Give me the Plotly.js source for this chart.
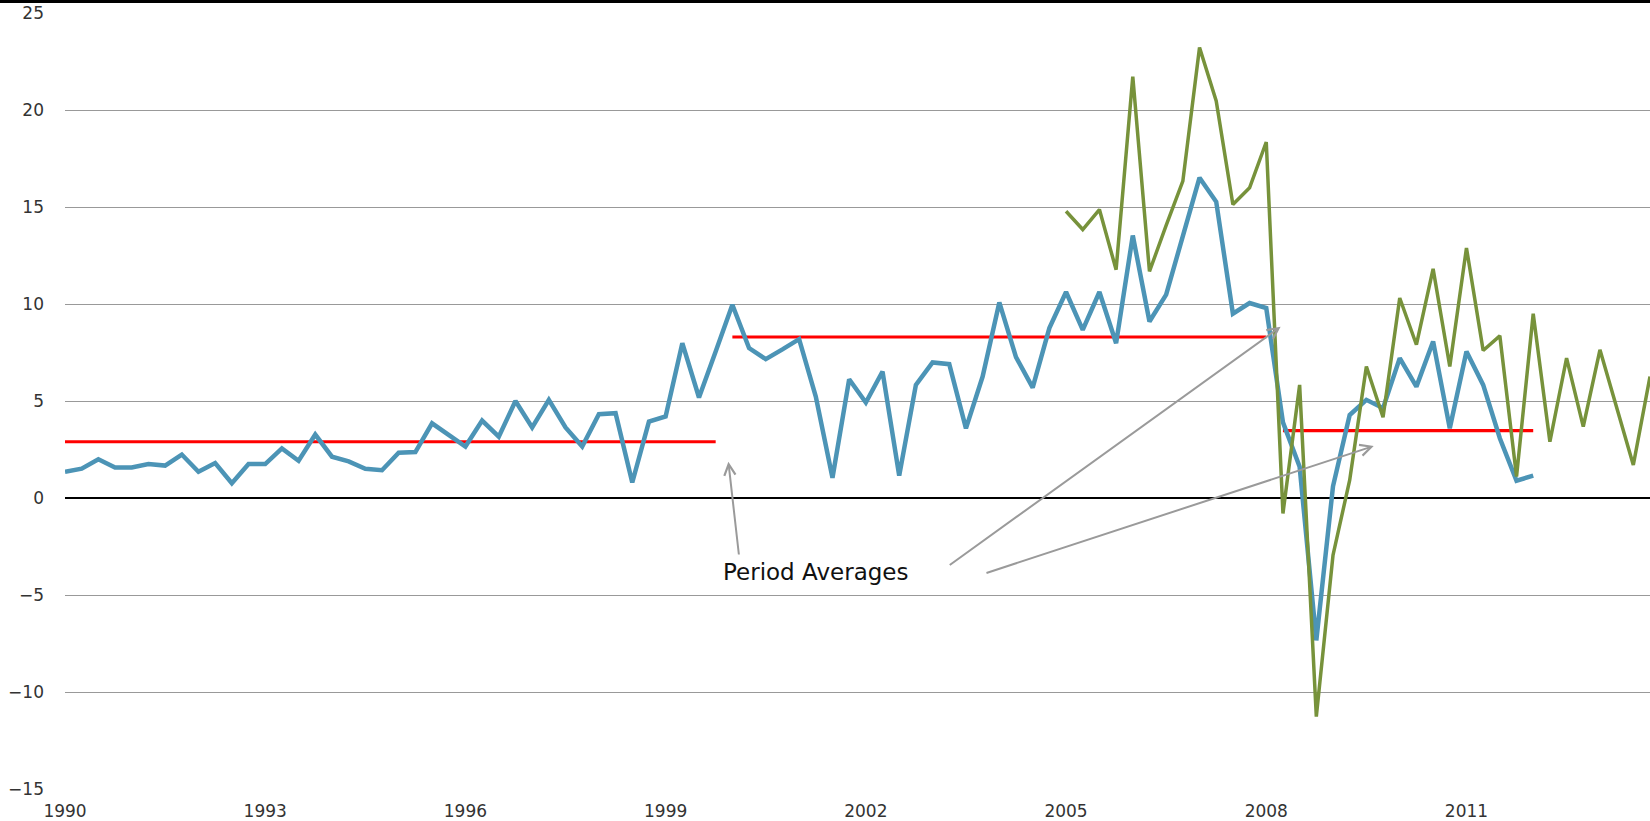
<!DOCTYPE html>
<html>
<head>
<meta charset="utf-8">
<script src="https://cdn.plot.ly/plotly-3.0.1.min.js"></script>
<style>
  html, body { margin: 0; padding: 0; background: #ffffff; }
  #chart { width: 1650px; height: 821px; }
</style>
</head>
<body>
<div id="chart"></div>
<script>
// Quarterly series, first quarter of each start year
const blueStart = 1990;
const blueValues = [
  1.35, 1.51, 2.00, 1.57,
  1.57, 1.75, 1.67, 2.24,
  1.35, 1.80, 0.76, 1.75,
  1.75, 2.56, 1.92, 3.27,
  2.13, 1.89, 1.51, 1.43,
  2.33, 2.37, 3.85, 3.25,
  2.65, 3.99, 3.16, 5.00,
  3.64, 5.06, 3.64, 2.65,
  4.32, 4.37, 0.80, 3.94,
  4.20, 7.98, 5.18, 7.55,
  9.96, 7.73, 7.16, 7.66,
  8.19, 5.23, 1.04, 6.12,
  4.92, 6.52, 1.15, 5.83,
  6.99, 6.90, 3.59, 6.26,
  10.08, 7.26, 5.69, 8.76,
  10.62, 8.67, 10.62, 7.98,
  13.53, 9.10, 10.48, 13.50,
  16.51, 15.27, 9.50, 10.05,
  9.79, 3.90, 1.61, -7.34,
  0.60, 4.28, 5.06, 4.63,
  7.21, 5.74, 8.07, 3.59,
  7.55, 5.83, 3.08, 0.89,
  1.15
];

const greenStart = 2005;
const greenValues = [
  14.78, 13.84, 14.87, 11.77,
  21.72, 11.68, 14.05, 16.33,
  23.22, 20.47, 15.13, 15.99,
  18.35, -0.80, 5.83, -11.27,
  -2.95, 0.92, 6.78, 4.16,
  10.31, 7.90, 11.81, 6.78,
  12.89, 7.60, 8.36, 1.10,
  9.50, 2.90, 7.21, 3.68,
  7.64, 4.60, 1.70, 6.26
];

// Period averages: [start, end], value
const avgStarts = [1990, 2000, 2008.25];
const avgEnds = [1999.75, 2008, 2012];
const avgValues = [2.9, 8.3, 3.47];

const xTickVals = [1990, 1993, 1996, 1999, 2002, 2005, 2008, 2011];
const xTickText = ['1990', '1993', '1996', '1999', '2002', '2005', '2008', '2011'];
const yTickVals = [-15, -10, -5, 0, 5, 10, 15, 20, 25];

const annotationText = 'Period Averages';
const arrowTails = [[2000.10, -2.99], [2003.235, -3.51], [2003.785, -3.89]];
const arrowHeads = [[1999.94, 1.87], [2008.215, 8.83], [2009.61, 2.68]];

function quarters(start, n) {
  const xs = [];
  for (let i = 0; i < n; i++) xs.push(start + i / 4);
  return xs;
}

const traces = [];
// red average lines
for (let i = 0; i < avgValues.length; i++) {
  traces.push({
    x: [avgStarts[i], avgEnds[i]],
    y: [avgValues[i], avgValues[i]],
    mode: 'lines',
    line: { color: '#ff0000', width: 3.2 },
    hoverinfo: 'skip',
    showlegend: false
  });
}
traces.push({
  x: quarters(blueStart, blueValues.length),
  y: blueValues,
  mode: 'lines',
  line: { color: '#4c94b6', width: 4.5 },
  hoverinfo: 'skip',
  showlegend: false
});
traces.push({
  x: quarters(greenStart, greenValues.length),
  y: greenValues,
  mode: 'lines',
  line: { color: '#77923b', width: 3.5 },
  hoverinfo: 'skip',
  showlegend: false
});

const annotations = [{
  x: 2001.25, y: -3.8, xref: 'x', yref: 'y',
  text: annotationText, showarrow: false,
  font: { family: 'DejaVu Sans', size: 23, color: '#111111' },
  xanchor: 'center', yanchor: 'middle'
}];
for (let i = 0; i < arrowTails.length; i++) {
  annotations.push({
    x: arrowHeads[i][0], y: arrowHeads[i][1],
    ax: arrowTails[i][0], ay: arrowTails[i][1],
    xref: 'x', yref: 'y', axref: 'x', ayref: 'y',
    text: '', showarrow: true,
    arrowhead: 5, arrowsize: 1.1, arrowwidth: 2,
    arrowcolor: '#9a9a9a', standoff: 0, startstandoff: 0
  });
}

const layout = {
  width: 1650, height: 821,
  margin: { l: 65, r: 0, t: 13, b: 32, pad: 0 },
  paper_bgcolor: '#ffffff',
  plot_bgcolor: '#ffffff',
  showlegend: false,
  font: { family: 'DejaVu Sans', size: 17, color: '#333333' },
  xaxis: {
    range: [1990, 2013.75],
    tickvals: xTickVals,
    ticktext: xTickText,
    showgrid: false,
    zeroline: false,
    showline: false,
    ticks: '',
    ticklabelstandoff: 10,
    tickfont: { family: 'DejaVu Sans', size: 17, color: '#333333' }
  },
  yaxis: {
    range: [-15, 25],
    tickvals: yTickVals,
    showgrid: true,
    gridcolor: '#999999',
    gridwidth: 1,
    zeroline: true,
    zerolinecolor: '#000000',
    zerolinewidth: 1.5,
    showline: false,
    ticks: '',
    ticklabelstandoff: 20,
    tickfont: { family: 'DejaVu Sans', size: 17, color: '#333333' }
  },
  shapes: [{
    type: 'line', xref: 'paper', yref: 'paper',
    x0: -65 / 1585, x1: 1, y0: 1 + 11.5 / 776, y1: 1 + 11.5 / 776,
    line: { color: '#000000', width: 3 }
  }],
  annotations: annotations
};

Plotly.newPlot('chart', traces, layout, { staticPlot: true, displayModeBar: false });
</script>
</body>
</html>
